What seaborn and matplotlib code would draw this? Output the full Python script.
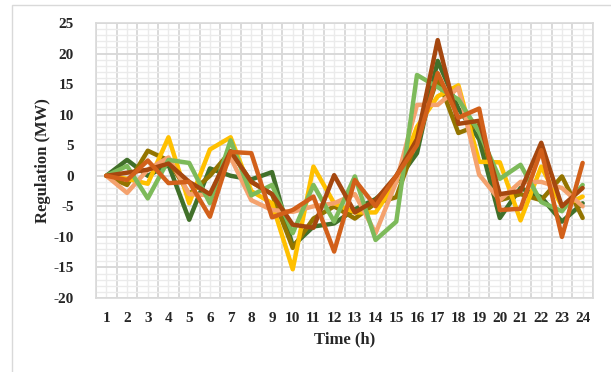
import numpy as np
import pandas as pd
import matplotlib
matplotlib.use("Agg")
import matplotlib.pyplot as plt
import seaborn as sns
from matplotlib.patches import Rectangle
from matplotlib.ticker import MultipleLocator, FixedLocator

hours = list(range(1, 25))

dark_green = [0, 2.6, 0, 1.8, -7.2, 1.2, 0, -0.6, 0.6, -11.5, -8.3, -7.8, -5.5, -3.8, -1, 3.7, 18.8, 11, 6, -6.9, -2, -3.5, -7.5, -4.5]
olive = [0, -1.5, 4.1, 2.5, -3, 0, 4, -1, -3, -11.8, -7, -5, -7, -4.5, -3.5, 6, 16, 7, 8.3, -4, -3, -4, -0.1, -6.9]
yellow = [0, -0.5, -1.3, 6.3, -4.5, 4.3, 6.3, -2.5, -4.5, -15.3, 1.5, -4.5, -6, -6, -1, 8, 13, 14.8, 2.3, 2.2, -7.3, 1.5, -5, -3.4]
salmon = [0, -2.8, 1, 3, -3, -3.2, 3, -4, -5.6, -5.9, -5, -4.5, -3, -9.4, -1, 11.6, 11.6, 14.4, 0.2, -4, -1, -1, -2, -5]
light_green = [0, 1.6, -3.7, 2.6, 2.1, -4.5, 5.8, -3.2, -1.5, -9.4, -1.5, -7.5, -0.1, -10.5, -7.5, 16.5, 14.5, 12.5, 7.2, -0.5, 1.8, -4.3, -5.8, -1.5]
brown = [0, 0.5, 1, 2, -1, -3, 4, -1, -3, -8, -8.5, 0.1, -6, -4, 0, 6, 22.2, 8.5, 9, -3, -2.5, 5.4, -5, -2]
dark_orange = [0, -0.7, 2.5, -1.2, -1, -6.7, 3.9, 3.7, -6.8, -5.6, -3.4, -12.4, -0.7, -5, 0, 5, 16.8, 9.5, 11, -5.6, -5.4, 4.2, -10, 2.1]

series = {
    "S1": dark_green, "S2": olive, "S3": yellow, "S4": salmon,
    "S5": light_green, "S6": brown, "S7": dark_orange,
}
palette = {
    "S1": "#41702a", "S2": "#937400", "S3": "#ffc000", "S4": "#f4a26e",
    "S5": "#7dba5a", "S6": "#a5470f", "S7": "#d2601a",
}

df = pd.DataFrame([
    {"Hour": h, "Value": v, "Series": name}
    for name, vals in series.items() for h, v in zip(hours, vals)
])

sns.set_theme(style="white")
plt.rcParams["font.family"] = ["Liberation Serif", "DejaVu Serif"]
plt.rcParams["font.weight"] = "bold"

fig = plt.figure(figsize=(6.11, 3.72), dpi=100)
fig.patch.set_facecolor("white")
fig.patches.append(Rectangle((12 / 611, -0.1), 1.2, 1.1 - 5 / 372,
                             transform=fig.transFigure, fill=False,
                             edgecolor="#d9d9d9", linewidth=1.0))
ax = fig.add_axes([96 / 611, 1 - 298 / 372, (593 - 96) / 611, (298 - 23) / 372])

sns.lineplot(data=df, x="Hour", y="Value", hue="Series", palette=palette,
             linewidth=3.2, legend=False, ax=ax, sort=False)

ax.set_xlim(0.5, 24.5)
ax.set_ylim(-20, 25)
ax.yaxis.set_major_locator(MultipleLocator(5))
ax.yaxis.set_minor_locator(MultipleLocator(1))
ax.xaxis.set_major_locator(FixedLocator(hours))
ax.xaxis.set_minor_locator(FixedLocator([h + 0.5 for h in range(0, 25)]))

ax.grid(which="minor", axis="y", color="#ebebeb", linewidth=1.0)
ax.grid(which="major", axis="y", color="#d9d9d9", linewidth=1.4)
ax.grid(which="minor", axis="x", color="#d9d9d9", linewidth=1.4)
ax.grid(which="major", axis="x", color="#ebebeb", linewidth=1.0)
ax.set_axisbelow(True)
for s in ax.spines.values():
    s.set_color("#d9d9d9")
    s.set_linewidth(1.2)

ax.tick_params(axis="both", which="both", length=0, labelsize=11)
ax.set_xticks(hours)
ax.set_xticklabels([str(h) for h in hours], fontweight="bold")
ax.set_yticks(list(range(-20, 26, 5)))
ax.set_yticklabels([str(v) for v in range(-20, 26, 5)], fontweight="bold")
ax.tick_params(axis="y", pad=16)
ax.tick_params(axis="x", pad=10)

ax.set_xlabel("Time (h)", fontsize=12, fontweight="bold", labelpad=5)
ax.set_ylabel("Regulation (MW)", fontsize=12, fontweight="bold", labelpad=2)

fig.savefig("out.png", dpi=100, facecolor="white")
